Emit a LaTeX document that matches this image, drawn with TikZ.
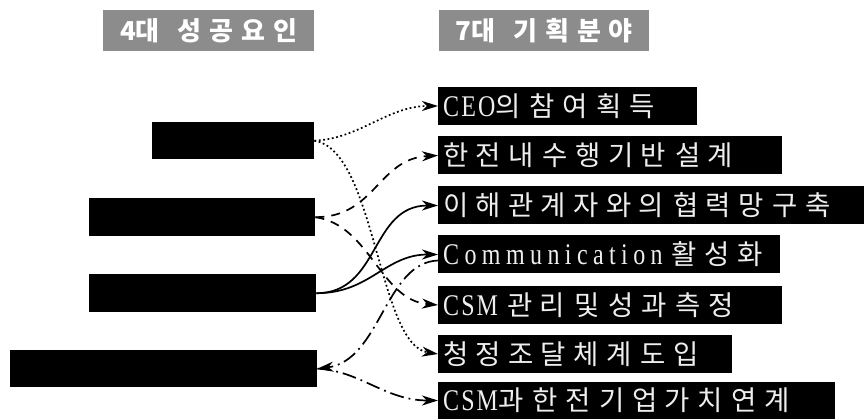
\documentclass[tikz,border=0pt]{standalone}
\usepackage{fontspec}
\setmainfont{Noto Sans CJK KR}
\newfontfamily\hfont{Noto Sans CJK KR}[WordSpace=2.6]
\newfontfamily\tfont{Noto Sans CJK KR}[WordSpace=3]
\newfontfamily\lfont{Liberation Serif}[FakeStretch=0.8,LetterSpace=18]
\newfontfamily\lfontn{Liberation Serif}[FakeStretch=0.8,LetterSpace=7]
\newcommand\lat[1]{{\lfont\fontsize{30}{30}\selectfont #1}}
\newcommand\latn[1]{{\lfontn\fontsize{30}{30}\selectfont #1}}
\usetikzlibrary{arrows.meta}

% fixed tracking between Hangul syllables
\newdimen\hgap \hgap=6pt
\newXeTeXintercharclass\hangulcls
\count255="AC00
\loop
  \XeTeXcharclass\count255=\hangulcls
  \ifnum\count255<"D7A3 \advance\count255 by 1
\repeat
\XeTeXinterchartoks\hangulcls\hangulcls={\kern\hgap}
\XeTeXinterchartokenstate=1

\newcommand\titlefont{\tfont\bfseries\fontsize{26}{26}\selectfont\hgap=8pt\relax}
\newcommand\fieldfont{\hfont\fontsize{27.5}{27.5}\selectfont\hgap=7.3pt\relax}

\definecolor{titlegray}{HTML}{8C8C8C}
\definecolor{boxtext}{HTML}{EEEEEE}

\tikzset{
  titlebox/.style={fill=titlegray, text=white, anchor=north west, inner sep=0pt,
    font=\titlefont},
  leftbox/.style={fill=black, anchor=north west, inner sep=0pt},
  fieldbox/.style={fill=black, text=boxtext, anchor=west, inner xsep=5pt, inner ysep=0pt,
    minimum height=38pt, align=left, font=\fieldfont},
  link/.style={line width=1.7pt, -{Stealth[length=16pt,width=10pt,inset=5pt]}},
  dotlink/.style={link, dash pattern=on 1.8pt off 2.6pt},
  dashlink/.style={link, dash pattern=on 9pt off 7pt},
  solidlink/.style={link},
  dashdotlink/.style={link, dash pattern=on 14pt off 5pt on 1.8pt off 5pt}
}

\begin{document}
\begin{tikzpicture}[x=1pt,y=-1pt]
\useasboundingbox (0,0) rectangle (866,419);

% column headings
\node[titlebox, minimum width=211pt, minimum height=41pt] (t1) at (103,10) {4대 성공요인};
\node[titlebox, minimum width=210pt, minimum height=41pt] (t2) at (439,10) {7대 기획분야};

% success factors (masked)
\node[leftbox, minimum width=162pt, minimum height=37pt] (L1) at (152,122) {};
\node[leftbox, minimum width=226pt, minimum height=38pt] (L2) at (89,198) {};
\node[leftbox, minimum width=227pt, minimum height=38pt] (L3) at (89,274) {};
\node[leftbox, minimum width=307pt, minimum height=37pt] (L4) at (10,350) {};

% planning areas
\node[fieldbox, text width=249pt] (R1) at (438,106) {\latn{CEO}의 참여 획득};
\node[fieldbox, text width=334pt] (R2) at (438,155.5) {한전내 수행기반 설계};
\node[fieldbox, text width=416pt] (R3) at (438,205.5) {이해관계자와의 협력망 구축};
\node[fieldbox, text width=332pt] (R4) at (438,254.5) {\lat{Communication} 활성화};
\node[fieldbox, text width=334pt] (R5) at (438,305) {\latn{CSM} 관리 및 성과 측정};
\node[fieldbox, text width=284pt] (R6) at (438,354) {청정조달체계 도입};
\node[fieldbox, text width=387pt] (R7) at (438,400.5) {\latn{CSM}과 한전 기업가치 연계};

% links
\draw[dotlink] (L1.east) .. controls +(45,-2) and +(-50,0) .. (R1.west);
\draw[dotlink] (L1.east) .. controls +(61,9) and +(-60,-9) .. (R6.west);
\draw[dashlink] (L2.east) .. controls +(60,0) and +(-60,3) .. (R2.west);
\draw[dashlink] (L2.east) .. controls +(55,8) and +(-58,-5) .. (R5.west);
\draw[solidlink] (L3.east) .. controls +(64,0) and +(-68,0) .. (R3.west);
\draw[solidlink] (L3.east) .. controls +(54,0) and +(-53,0) .. (R4.west);
\draw[dashdotlink] ([yshift=-6pt]R4.west) .. controls +(-53,2) and +(63,-8) .. (L4.east);
\draw[dashdotlink] (L4.east) .. controls +(43,2) and +(-53,0) .. (R7.west);
\end{tikzpicture}
\end{document}
